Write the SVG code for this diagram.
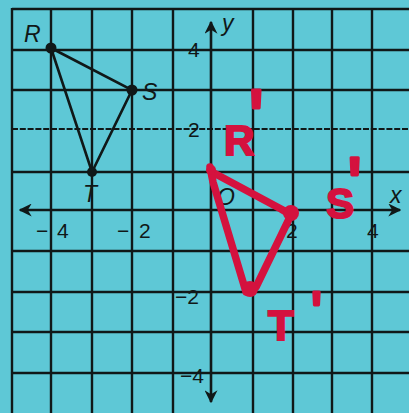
<svg xmlns="http://www.w3.org/2000/svg" width="409" height="413" viewBox="0 0 409 413">
<style>
.grid{stroke:#101818;stroke-width:2.4;fill:none}
.dash{stroke-width:1.8;stroke-dasharray:6 1.8}
.axis{stroke:#101818;stroke-width:2.6;fill:none}
.num{font-family:"Liberation Sans",Arial,sans-serif;font-size:21px;fill:#101818}
.lbl{font-family:"Liberation Sans",Arial,sans-serif;font-size:23px;font-style:italic;fill:#101818}
.edge{stroke:#101818;stroke-width:2.6;fill:none}
.red{stroke:#d4123e;stroke-width:7.5;fill:none;stroke-linecap:round;stroke-linejoin:round}
.rtxt{font-family:"Liberation Sans",Arial,sans-serif;font-size:42px;font-weight:bold;fill:#d4123e;stroke:#d4123e;stroke-width:2}
.pr{font-weight:normal;stroke-width:3;stroke-linejoin:round}
</style>
<defs>
<marker id="arr" viewBox="0 0 10 10" refX="9" refY="5" markerWidth="5" markerHeight="5" orient="auto-start-reverse">
<path d="M0,0 L10,5 L0,10 L3,5 z" fill="#101818"/>
</marker>
</defs>
<rect width="409" height="413" fill="#5ec8d6"/>
<g id="grid">
<path class="grid" d="M12,8V413M51,8V413M92,8V413M132,8V413M173,8V413M253,8V413M293,8V413M332,8V413M372,8V413"/>
<path class="grid" d="M12,9H409M12,50H409M12,90H409M12,172H409M12,251H409M12,292H409M12,332H409M12,373H409"/>
<path class="grid dash" d="M12,129H409"/>
</g>
<g id="axes">
<line class="axis" x1="20" y1="210" x2="400" y2="210" marker-start="url(#arr)" marker-end="url(#arr)"/>
<line class="axis" x1="211" y1="22" x2="211" y2="402" marker-start="url(#arr)" marker-end="url(#arr)"/>
<text class="lbl" x="222" y="31" font-size="25">y</text>
<text class="lbl" x="390" y="203" font-size="27">x</text>
<text class="lbl" x="217" y="205" font-size="21">O</text>
<text class="num" x="188" y="57">4</text>
<text class="num" x="188" y="137">2</text>
<text class="num" x="175" y="304">−2</text>
<text class="num" x="180" y="383">−4</text>
<text class="num" x="36" y="238">−</text><text class="num" x="57" y="238">4</text>
<text class="num" x="117" y="238">−</text><text class="num" x="139" y="238">2</text>
<text class="num" x="286" y="238">2</text>
<text class="num" x="367" y="238">4</text>
</g>
<g id="connectors">
<path class="edge" d="M51,48L132,90L92,172Z"/>
<path class="red" d="M210,167L213,182L246,292L256,287L291,215L281,209L212,172"/>
</g>
<g id="R"><circle cx="51" cy="48" r="5.5" fill="#101818"/><text class="lbl" x="24" y="42">R</text></g>
<g id="S"><circle cx="132" cy="90" r="5.5" fill="#101818"/><text class="lbl" x="142" y="100">S</text></g>
<g id="T"><circle cx="92" cy="172" r="5" fill="#101818"/><text class="lbl" x="83" y="202">T</text></g>
<g id="R2"><circle cx="211" cy="170" r="5" fill="#d4123e"/><text class="rtxt" x="224" y="155">R<tspan class="pr" font-size="84" dx="-6" dy="-8">'</tspan></text></g>
<g id="S2"><circle cx="291" cy="213" r="8" fill="#d4123e"/><text class="rtxt" x="326" y="218">S<tspan class="pr" font-size="80" dx="-7" dy="-5">'</tspan></text></g>
<g id="T2"><circle cx="250" cy="289" r="8" fill="#d4123e"/><text class="rtxt" x="268" y="340">T<tspan class="pr" font-size="60" dx="17" dy="-7">'</tspan></text></g>
</svg>
